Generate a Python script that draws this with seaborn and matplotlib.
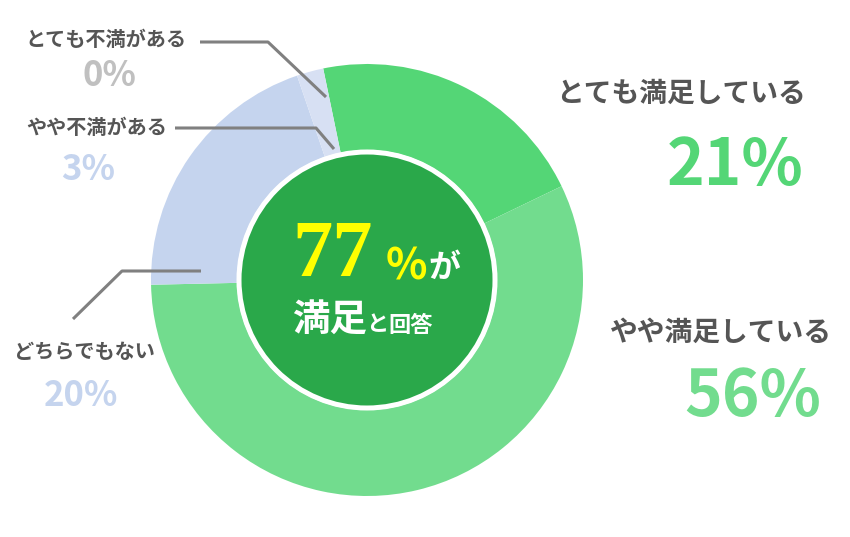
import matplotlib
matplotlib.use("Agg")
import matplotlib.pyplot as plt
import seaborn as sns
from matplotlib.patches import Circle

# Survey answers, clockwise from the top-right
categories = ['とても満足している', 'やや満足している', 'どちらでもない', 'やや不満がある', 'とても不満がある']
shares = [21.1, 56.8, 20.1, 2.0, 0.0]  # drawn slice sizes
pct_labels = ['21%', '56%', '20%', '3%', '0%']
slice_colors = ['#54d676', '#72dc8e', '#c5d4ee', '#d7e0f3', '#c0c0c0']
pct_colors = ['#54d676', '#72dc8e', '#c5d4ee', '#c5d4ee', '#c0c0c0']
satisfied_total = '77'

W, H = 850, 537
CX, CY = 367, 280      # donut centre in pixels (from top)
R_OUT, R_IN = 216, 130

TEXT_GREY = '#555555'
LINE_GREY = '#808080'
DARK_GREEN = '#2aa84a'


def Y(py):
    # pixel row from the top -> data y
    return H - py


sns.set_theme(style="white")
plt.rcParams['font.family'] = ['Noto Sans CJK JP', 'DejaVu Sans']

fig = plt.figure(figsize=(W / 100, H / 100), dpi=100)
ax = fig.add_axes([0, 0, 1, 1])

ax.pie(shares, colors=slice_colors, startangle=90 + 11.7, counterclock=False,
       radius=R_OUT, center=(CX, Y(CY)),
       wedgeprops=dict(width=R_OUT - R_IN, edgecolor='none', linewidth=0))

ax.add_patch(Circle((CX, Y(CY)), 128, facecolor=DARK_GREEN, edgecolor='white',
                    linewidth=3.6, zorder=3))

ax.set_xlim(0, W)
ax.set_ylim(0, H)
ax.set_aspect('equal')
ax.axis('off')

# centre text
ax.text(373, Y(256), satisfied_total, ha='right', va='center', color='#ffff00',
        fontsize=58, fontweight='bold', family=['Liberation Serif', 'DejaVu Serif'], zorder=4)
ax.text(406, Y(266), '%', ha='center', va='center', color='#ffff00',
        fontsize=31, fontweight='bold', zorder=4)
ax.text(444, Y(268), 'が', ha='center', va='center', color='white',
        fontsize=23, fontweight='bold', zorder=4)
ax.text(330, Y(319), '満足', ha='center', va='center', color='white',
        fontsize=27, fontweight='bold', zorder=4)
ax.text(377, Y(325), 'と', ha='center', va='center', color='white',
        fontsize=16, fontweight='bold', zorder=4)
ax.text(411, Y(326), '回答', ha='center', va='center', color='white',
        fontsize=16, fontweight='bold', zorder=4)

# label positions (centre of name, centre of percentage)
name_pos = [(681, 94), (721, 333), (84, 351), (97, 127), (106, 39)]
pct_pos = [(735, 166), (753, 397), (81, 396), (88, 170), (109, 75)]
name_size = [20, 20, 14.5, 14.5, 14.5]
pct_size = [46, 46, 25, 25, 25]

for i, name in enumerate(categories):
    nx, ny = name_pos[i]
    px, py = pct_pos[i]
    ax.text(nx, Y(ny), name, ha='center', va='center', color=TEXT_GREY,
            fontsize=name_size[i], fontweight='bold')
    ax.text(px, Y(py), pct_labels[i], ha='center', va='center', color=pct_colors[i],
            fontsize=pct_size[i], fontweight='bold')

# leader lines
leaders = [
    [(200, 42), (268, 42), (326, 97)],
    [(175, 128), (316, 128), (334, 149)],
    [(201, 271), (122, 271), (73, 319)],
]
for pts in leaders:
    ax.plot([p[0] for p in pts], [Y(p[1]) for p in pts], color=LINE_GREY,
            linewidth=2.2, solid_capstyle='butt', zorder=5)

fig.savefig('out.png', dpi=100, facecolor='white')
